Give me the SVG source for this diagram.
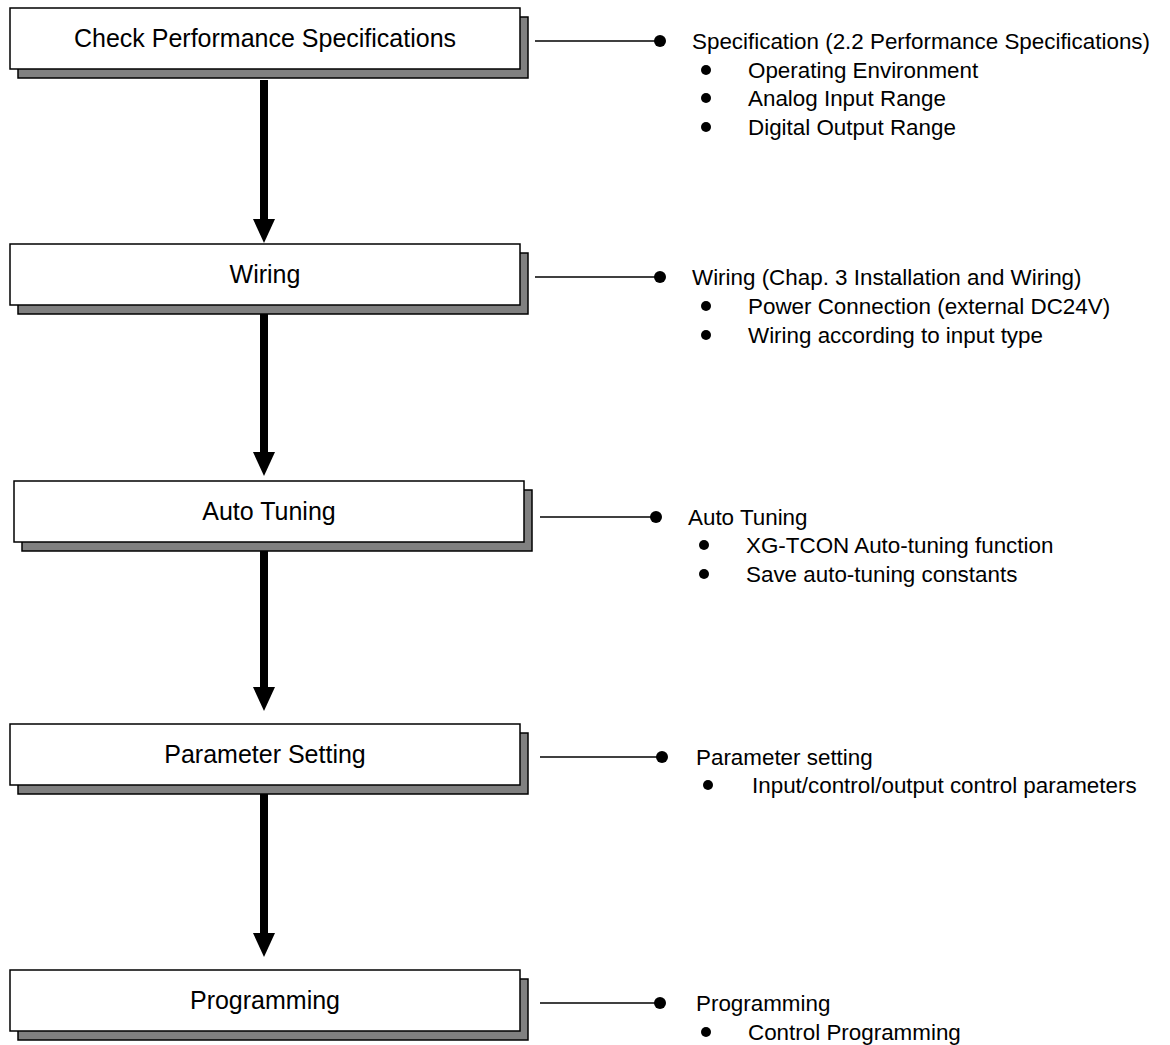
<svg xmlns="http://www.w3.org/2000/svg" width="1170" height="1045" viewBox="0 0 1170 1045">
<style>
.sh{fill:#808080;stroke:#000;stroke-width:1.5}
.bx{fill:#fff;stroke:#000;stroke-width:1.5}
.lbl{font-family:"Liberation Sans",Arial,sans-serif;font-size:25px;fill:#000;text-anchor:middle}
.t{font-family:"Liberation Sans",Arial,sans-serif;font-size:22.4px;fill:#000}
.ln{stroke:#000;stroke-width:1.5;fill:none}
.shaft{fill:#000}
</style>
<rect width="1170" height="1045" fill="#fff"/>
<g id="connectors">
  <rect class="shaft" x="260" y="80" width="8" height="140"/>
  <polygon points="253,219 275,219 264,243"/>
  <rect class="shaft" x="260" y="307" width="8" height="146"/>
  <polygon points="253,452 275,452 264,476"/>
  <rect class="shaft" x="260" y="551" width="8" height="137"/>
  <polygon points="253,687 275,687 264,711"/>
  <rect class="shaft" x="260" y="793" width="8" height="141"/>
  <polygon points="253,933 275,933 264,957"/>
  <line class="ln" x1="535" y1="41" x2="658" y2="41"/><circle cx="660" cy="41" r="6"/>
  <line class="ln" x1="535" y1="277" x2="658" y2="277"/><circle cx="660" cy="277" r="6"/>
  <line class="ln" x1="540" y1="517" x2="654" y2="517"/><circle cx="656" cy="517" r="6"/>
  <line class="ln" x1="540" y1="757" x2="660" y2="757"/><circle cx="662" cy="757" r="6"/>
  <line class="ln" x1="540" y1="1003" x2="658" y2="1003"/><circle cx="660" cy="1003" r="6"/>
</g>
<g id="n1">
  <rect class="sh" x="18" y="17" width="510" height="61"/>
  <rect class="bx" x="10" y="8" width="510" height="61"/>
  <text class="lbl" x="265" y="47">Check Performance Specifications</text>
</g>
<g id="n2">
  <rect class="sh" x="18" y="253" width="510" height="61"/>
  <rect class="bx" x="10" y="244" width="510" height="61"/>
  <text class="lbl" x="265" y="283">Wiring</text>
</g>
<g id="n3">
  <rect class="sh" x="22" y="490" width="510" height="61"/>
  <rect class="bx" x="14" y="481" width="510" height="61"/>
  <text class="lbl" x="269" y="520">Auto Tuning</text>
</g>
<g id="n4">
  <rect class="sh" x="18" y="733" width="510" height="61"/>
  <rect class="bx" x="10" y="724" width="510" height="61"/>
  <text class="lbl" x="265" y="763">Parameter Setting</text>
</g>
<g id="n5">
  <rect class="sh" x="18" y="979" width="510" height="61"/>
  <rect class="bx" x="10" y="970" width="510" height="61"/>
  <text class="lbl" x="265" y="1009">Programming</text>
</g>
<g id="notes1">
  <text class="t" x="692" y="49">Specification (2.2 Performance Specifications)</text>
  <circle cx="706" cy="70" r="5"/><text class="t" x="748" y="78">Operating Environment</text>
  <circle cx="706" cy="98" r="5"/><text class="t" x="748" y="106">Analog Input Range</text>
  <circle cx="706" cy="127" r="5"/><text class="t" x="748" y="135">Digital Output Range</text>
</g>
<g id="notes2">
  <text class="t" x="692" y="285">Wiring (Chap. 3 Installation and Wiring)</text>
  <circle cx="706" cy="306" r="5"/><text class="t" x="748" y="314">Power Connection (external DC24V)</text>
  <circle cx="706" cy="335" r="5"/><text class="t" x="748" y="343">Wiring according to input type</text>
</g>
<g id="notes3">
  <text class="t" x="688" y="525">Auto Tuning</text>
  <circle cx="704" cy="545" r="5"/><text class="t" x="746" y="553">XG-TCON Auto-tuning function</text>
  <circle cx="704" cy="574" r="5"/><text class="t" x="746" y="582">Save auto-tuning constants</text>
</g>
<g id="notes4">
  <text class="t" x="696" y="765">Parameter setting</text>
  <circle cx="708" cy="785" r="5"/><text class="t" x="752" y="793">Input/control/output control parameters</text>
</g>
<g id="notes5">
  <text class="t" x="696" y="1011">Programming</text>
  <circle cx="706" cy="1032" r="5"/><text class="t" x="748" y="1040">Control Programming</text>
</g>
</svg>
